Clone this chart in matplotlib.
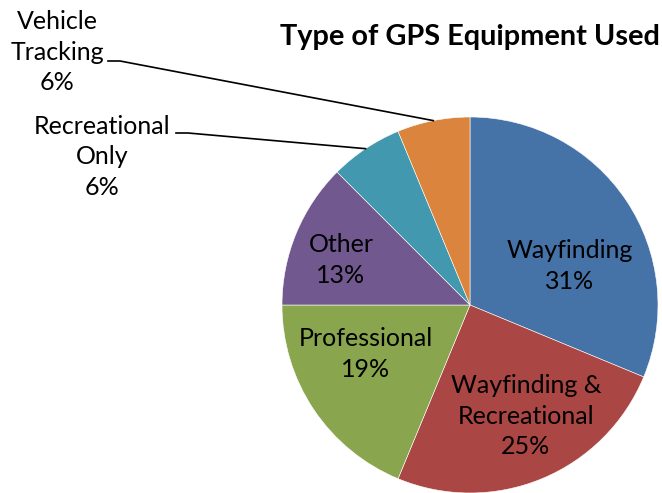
import numpy as np
import matplotlib
matplotlib.use("Agg")
import matplotlib.pyplot as plt

# data
categories = ["Wayfinding", "Wayfinding &\nRecreational", "Professional", "Other",
              "Recreational\nOnly", "Vehicle\nTracking"]
counts = [5, 4, 3, 2, 1, 1]
colors = ["#4572A7", "#AA4643", "#89A54E", "#71588F", "#4198AF", "#DB843D"]

# layout (pixel coords, y from top)
W, H = 662, 493
CENTER = (470, 305)
RADIUS = 188
inside_pos = {0: (570, 266), 1: (526, 416), 2: (366, 354), 3: (341, 260)}
outside_pos = {4: (102, 157), 5: (57, 52)}
leader_start = {4: (176, 133), 5: (108, 61)}
leader_knee = 12

plt.rcParams["font.family"] = ["Lato", "DejaVu Sans"]
fig = plt.figure(figsize=(W / 100, H / 100), dpi=100)
ax = fig.add_axes([0, 0, 1, 1])

cx, cy = CENTER[0], H - CENTER[1]
wedges, _ = ax.pie(counts, colors=colors, startangle=90, counterclock=False,
                   center=(cx, cy), radius=RADIUS, frame=True,
                   wedgeprops=dict(edgecolor="#FFFFFF", linewidth=0.4))
ax.set_xlim(0, W)
ax.set_ylim(0, H)
ax.set_aspect("equal")
ax.axis("off")

total = sum(counts)
pcts = [int(c / total * 100 + 0.5) for c in counts]
FS = 18
LS = 1.42

for i, (cat, p) in enumerate(zip(categories, pcts)):
    label = f"{cat}\n{p}%"
    if i in inside_pos:
        x, y = inside_pos[i]
    else:
        x, y = outside_pos[i]
        w = wedges[i]
        mid = np.deg2rad((w.theta1 + w.theta2) / 2)
        ex = cx + RADIUS * np.cos(mid)
        ey = cy + RADIUS * np.sin(mid)
        sx, sy = leader_start[i]
        ax.plot([sx, sx + leader_knee, ex], [H - sy, H - sy, ey],
                color="black", linewidth=1.2)
    ax.text(x, H - y, label, ha="center", va="center", fontsize=FS,
            linespacing=LS, color="black")

fig.text(470 / W, 1 - 37 / H, "Type of GPS Equipment Used", ha="center", va="center",
         fontsize=20.8, fontweight="bold")

fig.savefig("out.png", dpi=100)
